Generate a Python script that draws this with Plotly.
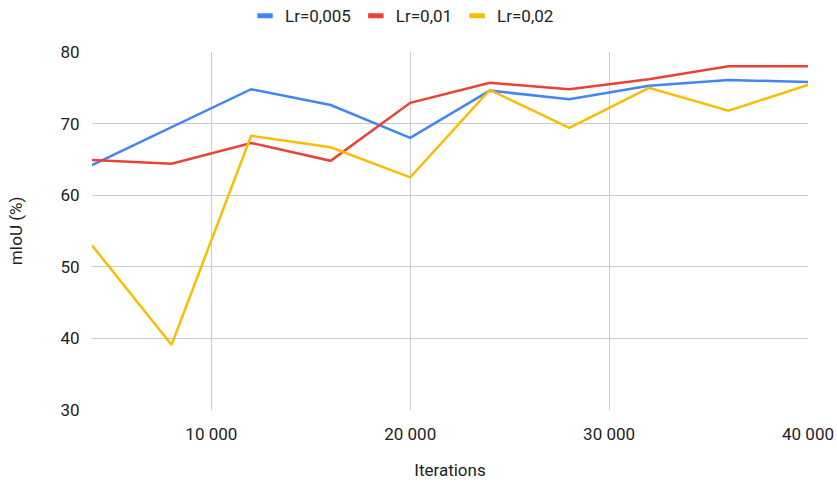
import plotly.graph_objects as go

iterations = [4000, 8000, 12000, 16000, 20000, 24000, 28000, 32000, 36000, 40000]
lr_0005 = [64.2, 69.5, 74.8, 72.6, 68.0, 74.6, 73.4, 75.3, 76.1, 75.8]
lr_001 = [64.9, 64.4, 67.3, 64.8, 72.9, 75.7, 74.8, 76.2, 78.0, 78.0]
lr_002 = [53.0, 39.1, 68.3, 66.7, 62.5, 74.7, 69.4, 75.0, 71.8, 75.4]

series = [
    ("Lr=0,005", lr_0005, "#4285F4"),
    ("Lr=0,01", lr_001, "#EA4335"),
    ("Lr=0,02", lr_002, "#FBBC04"),
]

fig = go.Figure()
for name, vals, color in series:
    fig.add_trace(go.Scatter(x=iterations, y=vals, mode="lines", name=name,
                             line=dict(color=color, width=2.5), showlegend=False))
# legend-only entries with short thick symbols
for name, vals, color in series:
    fig.add_trace(go.Scatter(x=[None], y=[None], mode="markers", name=name,
                             marker=dict(symbol="line-ew", size=11, color=color,
                                         line=dict(width=5, color=color))))

txt = "#222222"
font = dict(family="Roboto, Arial, sans-serif", size=17, color=txt)
fig.update_layout(
    width=837, height=482,
    margin=dict(l=92, r=29, t=52, b=72, autoexpand=False),
    paper_bgcolor="white", plot_bgcolor="white",
    font=font,
    separators=". ",
    legend=dict(orientation="h", x=0.433, xanchor="center", y=1.10, yanchor="middle",
                font=dict(size=17, color=txt), tracegroupgap=0),
    showlegend=True,
)
fig.update_xaxes(range=[4000, 40000], tickvals=[10000, 20000, 30000, 40000],
                 tickformat=",d", showgrid=True, gridcolor="#cccccc", gridwidth=1,
                 zeroline=False, showline=False, ticks="outside", ticklen=9,
                 tickcolor="rgba(0,0,0,0)", tickfont=dict(size=17, color=txt),
                 title=dict(text="Iterations", standoff=20, font=dict(size=17, color=txt)))
fig.update_yaxes(range=[30, 80], tickvals=[30, 40, 50, 60, 70, 80],
                 showgrid=True, gridcolor="#cccccc", gridwidth=1,
                 zeroline=False, showline=False, ticks="outside", ticklen=8,
                 tickcolor="rgba(0,0,0,0)", tickfont=dict(size=17, color=txt),
                 title=dict(text="mIoU (%)", standoff=33, font=dict(size=17, color=txt)))
fig.write_html(
    "out.html",
    config={"displayModeBar": False},
    post_script="document.body.style.margin='0';document.documentElement.style.overflow='hidden';document.body.style.overflow='hidden';",
)
